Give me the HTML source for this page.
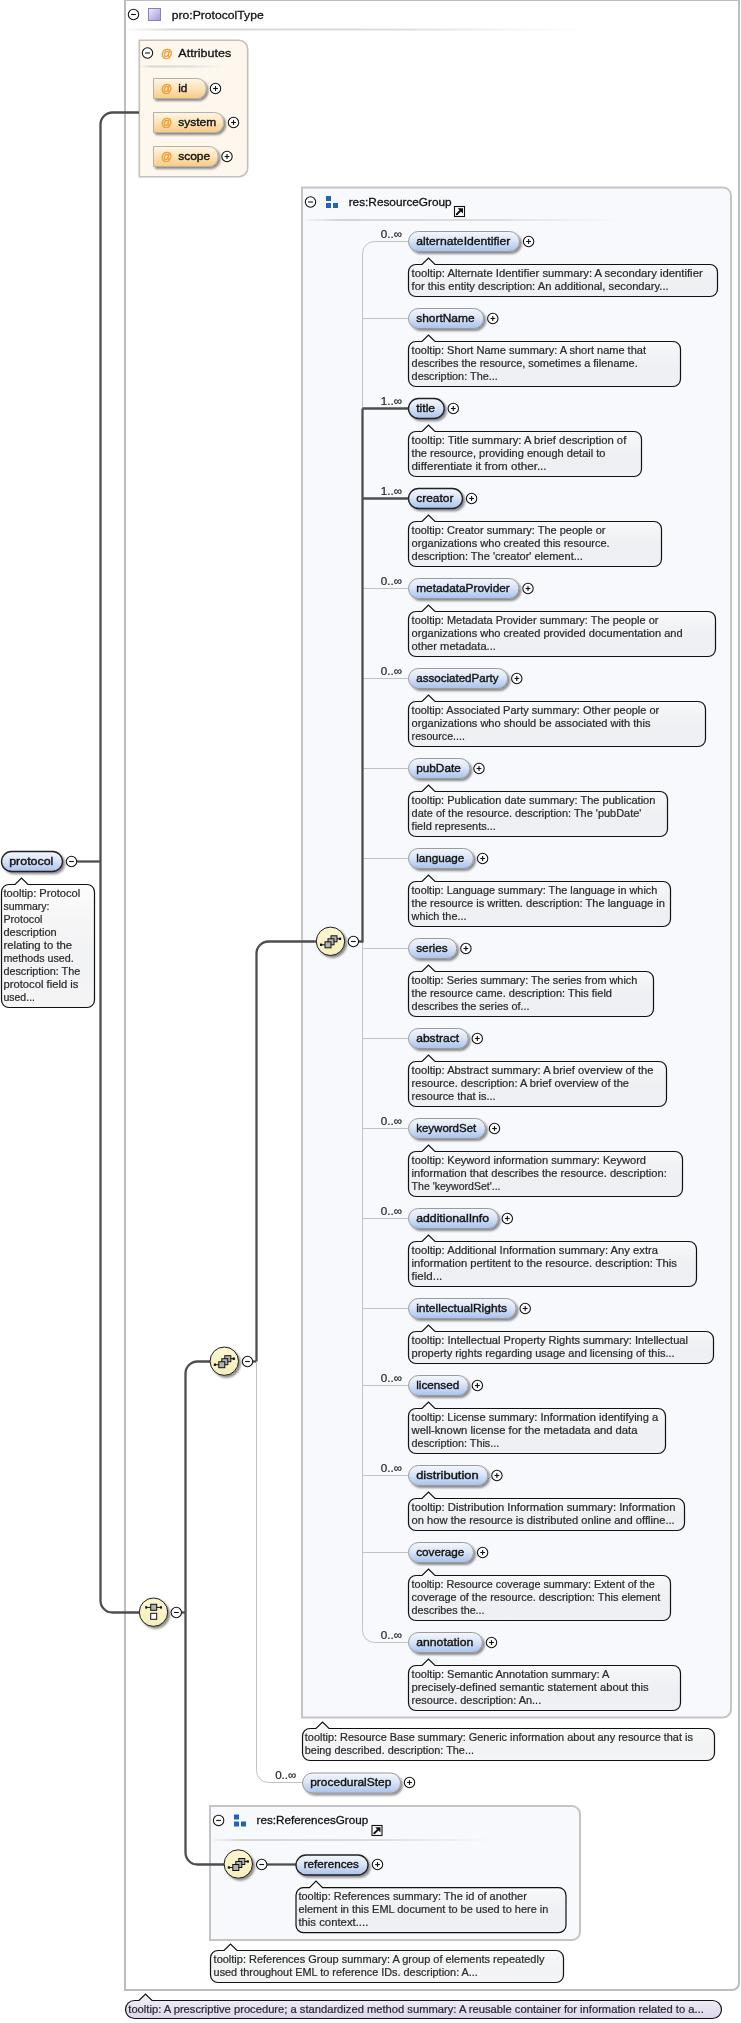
<!DOCTYPE html>
<html><head><meta charset="utf-8"><title>protocol</title>
<style>html,body{margin:0;padding:0;background:#fff;width:741px;height:2023px;overflow:hidden;font-family:"Liberation Sans", sans-serif;} svg{display:block;will-change:transform}</style>
</head><body>
<svg width="741" height="2023" viewBox="0 0 741 2023" font-family='"Liberation Sans", sans-serif'>
<defs>
 <linearGradient id="gElem" x1="0" y1="0" x2="0" y2="1">
  <stop offset="0" stop-color="#f4f7fd"/><stop offset="0.45" stop-color="#dbe5f7"/><stop offset="1" stop-color="#a8c2ec"/>
 </linearGradient>
 <linearGradient id="gAttr" x1="0" y1="0" x2="0" y2="1">
  <stop offset="0" stop-color="#fef6e8"/><stop offset="0.5" stop-color="#fce3b8"/><stop offset="1" stop-color="#f6cb86"/>
 </linearGradient>
 <linearGradient id="gTip" x1="0" y1="0" x2="0" y2="1">
  <stop offset="0" stop-color="#ffffff" stop-opacity="0.92"/><stop offset="1" stop-color="#d6d8dc" stop-opacity="0.24"/>
 </linearGradient>
 <linearGradient id="gTipP" x1="0" y1="0" x2="0" y2="1">
  <stop offset="0" stop-color="#f4f2fa"/><stop offset="1" stop-color="#dcd6ec"/>
 </linearGradient>
 <linearGradient id="gCirc" x1="0" y1="0" x2="0" y2="1">
  <stop offset="0" stop-color="#fbf6d2"/><stop offset="1" stop-color="#f6eebb"/>
 </linearGradient>
 <linearGradient id="gPurp" x1="0" y1="0" x2="1" y2="1">
  <stop offset="0" stop-color="#efeafa"/><stop offset="1" stop-color="#a597d6"/>
 </linearGradient>
 <linearGradient id="gSep" x1="0" y1="0" x2="1" y2="0">
  <stop offset="0" stop-color="#dcdcdc" stop-opacity="0.2"/><stop offset="0.1" stop-color="#d6d6d6"/><stop offset="0.6" stop-color="#dedede"/><stop offset="1" stop-color="#e6e6e6" stop-opacity="0"/>
 </linearGradient>
 <filter id="sh" x="-20%" y="-30%" width="150%" height="180%">
  <feGaussianBlur in="SourceAlpha" stdDeviation="1.2"/>
  <feOffset dx="2" dy="2" result="o"/>
  <feComponentTransfer><feFuncA type="linear" slope="0.45"/></feComponentTransfer>
  <feMerge><feMergeNode/><feMergeNode in="SourceGraphic"/></feMerge>
 </filter>
</defs>
<path d="M125.0,0.0 H738.99 A0.01,0.01 0 0 1 739.0,0.01 V1983.0 A7,7 0 0 1 732.0,1990.0 H125.0 Z" fill="#ffffff" stroke="#bdbdbd" stroke-width="2"/>
<circle cx="133.5" cy="14.5" r="5.2" fill="#fff" stroke="#111" stroke-width="1.05"/>
<line x1="131.1" y1="14.5" x2="135.9" y2="14.5" stroke="#111" stroke-width="1.1"/>
<rect x="148.5" y="8.5" width="12" height="12" fill="url(#gPurp)" stroke="#8b7cc8" stroke-width="1"/>
<text x="171.7" y="18.5" font-size="11.8" font-weight="normal" fill="#111" text-anchor="start" textLength="92" lengthAdjust="spacingAndGlyphs" stroke="#111" stroke-width="0.3">pro:ProtocolType</text>
<rect x="128" y="28.5" width="460" height="2" fill="url(#gSep)"/>
<path d="M139.3,40.3 H238.7 A9,9 0 0 1 247.7,49.3 V167.7 A9,9 0 0 1 238.7,176.7 H139.3 Z" fill="#fdf7ee" stroke="#c4c0ba" stroke-width="1.6"/>
<circle cx="147.5" cy="53" r="5.2" fill="#fff" stroke="#111" stroke-width="1.05"/>
<line x1="145.1" y1="53" x2="149.9" y2="53" stroke="#111" stroke-width="1.1"/>
<text x="161" y="57" font-size="11.5" font-weight="normal" fill="#ee9b30" text-anchor="start" stroke="#ee9b30" stroke-width="0.45">@</text>
<text x="178.3" y="56.8" font-size="11.8" font-weight="normal" fill="#111" text-anchor="start" textLength="53" lengthAdjust="spacingAndGlyphs" stroke="#111" stroke-width="0.3">Attributes</text>
<rect x="142" y="65.5" width="82" height="2" fill="url(#gSep)"/>
<path d="M153.5,78.5 H197.0 A9,9 0 0 1 206.0,87.5 V89.5 A9,9 0 0 1 197.0,98.5 H153.5 Z" fill="url(#gAttr)" stroke="#b5b0a8" stroke-width="1" filter="url(#sh)"/>
<text x="160.9" y="92.4" font-size="11" font-weight="normal" fill="#ee9b30" text-anchor="start" stroke="#ee9b30" stroke-width="0.45">@</text>
<text x="178.2" y="92" font-size="11.8" font-weight="normal" fill="#111" text-anchor="start" textLength="9.2" lengthAdjust="spacingAndGlyphs" stroke="#111" stroke-width="0.38">id</text>
<circle cx="215.5" cy="88.5" r="5.2" fill="#fff" stroke="#111" stroke-width="1.05"/>
<line x1="213.1" y1="88.5" x2="217.9" y2="88.5" stroke="#111" stroke-width="1.1"/>
<line x1="215.5" y1="86.1" x2="215.5" y2="90.9" stroke="#111" stroke-width="1.1"/>
<path d="M153.5,112.5 H214.5 A9,9 0 0 1 223.5,121.5 V123.5 A9,9 0 0 1 214.5,132.5 H153.5 Z" fill="url(#gAttr)" stroke="#b5b0a8" stroke-width="1" filter="url(#sh)"/>
<text x="160.9" y="126.4" font-size="11" font-weight="normal" fill="#ee9b30" text-anchor="start" stroke="#ee9b30" stroke-width="0.45">@</text>
<text x="178.2" y="126" font-size="11.8" font-weight="normal" fill="#111" text-anchor="start" textLength="38.0" lengthAdjust="spacingAndGlyphs" stroke="#111" stroke-width="0.38">system</text>
<circle cx="233.5" cy="122.5" r="5.2" fill="#fff" stroke="#111" stroke-width="1.05"/>
<line x1="231.1" y1="122.5" x2="235.9" y2="122.5" stroke="#111" stroke-width="1.1"/>
<line x1="233.5" y1="120.1" x2="233.5" y2="124.9" stroke="#111" stroke-width="1.1"/>
<path d="M153.5,146.5 H209.0 A9,9 0 0 1 218.0,155.5 V157.5 A9,9 0 0 1 209.0,166.5 H153.5 Z" fill="url(#gAttr)" stroke="#b5b0a8" stroke-width="1" filter="url(#sh)"/>
<text x="160.9" y="160.4" font-size="11" font-weight="normal" fill="#ee9b30" text-anchor="start" stroke="#ee9b30" stroke-width="0.45">@</text>
<text x="178.2" y="160" font-size="11.8" font-weight="normal" fill="#111" text-anchor="start" textLength="32.0" lengthAdjust="spacingAndGlyphs" stroke="#111" stroke-width="0.38">scope</text>
<circle cx="227" cy="156.5" r="5.2" fill="#fff" stroke="#111" stroke-width="1.05"/>
<line x1="224.6" y1="156.5" x2="229.4" y2="156.5" stroke="#111" stroke-width="1.1"/>
<line x1="227" y1="154.1" x2="227" y2="158.9" stroke="#111" stroke-width="1.1"/>
<path d="M302.0,187.5 H723.0 A8,8 0 0 1 731.0,195.5 V1709.5 A8,8 0 0 1 723.0,1717.5 H302.0 Z" fill="#f8f9fd" stroke="#c4c4c4" stroke-width="2"/>
<circle cx="310.5" cy="202" r="5.2" fill="#fff" stroke="#111" stroke-width="1.05"/>
<line x1="308.1" y1="202" x2="312.9" y2="202" stroke="#111" stroke-width="1.1"/>
<rect x="326" y="196" width="5" height="5" fill="#1f64b8"/>
<rect x="326" y="203" width="5" height="5" fill="#1f64b8"/>
<rect x="333" y="203" width="5" height="5" fill="#1f64b8"/>
<text x="348.7" y="205.5" font-size="11.8" font-weight="normal" fill="#111" text-anchor="start" textLength="103" lengthAdjust="spacingAndGlyphs" stroke="#111" stroke-width="0.3">res:ResourceGroup</text>
<rect x="454.5" y="206.5" width="10" height="10" fill="#fff" stroke="#111" stroke-width="1.1"/>
<path d="M456.8,214.3 L461,210.1" stroke="#111" stroke-width="2" stroke-linecap="round"/>
<path d="M457.6,208.2 H463 V213.6 Z" fill="#111"/>
<rect x="305" y="219" width="320" height="2" fill="url(#gSep)"/>
<path d="M210.0,1806.0 H572.0 A8,8 0 0 1 580.0,1814.0 V1932.0 A8,8 0 0 1 572.0,1940.0 H210.0 Z" fill="#f8f9fd" stroke="#c4c4c4" stroke-width="2"/>
<circle cx="218.6" cy="1820.4" r="5.2" fill="#fff" stroke="#111" stroke-width="1.05"/>
<line x1="216.2" y1="1820.4" x2="221.0" y2="1820.4" stroke="#111" stroke-width="1.1"/>
<rect x="234" y="1814.5" width="5" height="5" fill="#1f64b8"/>
<rect x="234" y="1821.5" width="5" height="5" fill="#1f64b8"/>
<rect x="241" y="1821.5" width="5" height="5" fill="#1f64b8"/>
<text x="256.5" y="1824" font-size="11.8" font-weight="normal" fill="#111" text-anchor="start" textLength="111.7" lengthAdjust="spacingAndGlyphs" stroke="#111" stroke-width="0.3">res:ReferencesGroup</text>
<rect x="372.0" y="1825.5" width="10" height="10" fill="#fff" stroke="#111" stroke-width="1.1"/>
<path d="M374.3,1833.3 L378.5,1829.1" stroke="#111" stroke-width="2" stroke-linecap="round"/>
<path d="M375.1,1827.2 H380.5 V1832.6 Z" fill="#111"/>
<rect x="213" y="1839" width="285" height="2" fill="url(#gSep)"/>
<path d="M374.5,241.5 A12,12 0 0 0 362.5,253.5 V1630.5 A12,12 0 0 0 374.5,1642.5 H408" fill="none" stroke="#c2c2c2" stroke-width="1"/>
<path d="M374.5,241.5 H408" fill="none" stroke="#c2c2c2" stroke-width="1"/>
<path d="M362.5,318.5 H408" fill="none" stroke="#c2c2c2" stroke-width="1"/>
<path d="M362.5,588.5 H408" fill="none" stroke="#c2c2c2" stroke-width="1"/>
<path d="M362.5,678.5 H408" fill="none" stroke="#c2c2c2" stroke-width="1"/>
<path d="M362.5,768.5 H408" fill="none" stroke="#c2c2c2" stroke-width="1"/>
<path d="M362.5,858.5 H408" fill="none" stroke="#c2c2c2" stroke-width="1"/>
<path d="M362.5,948.5 H408" fill="none" stroke="#c2c2c2" stroke-width="1"/>
<path d="M362.5,1038.5 H408" fill="none" stroke="#c2c2c2" stroke-width="1"/>
<path d="M362.5,1128.5 H408" fill="none" stroke="#c2c2c2" stroke-width="1"/>
<path d="M362.5,1218.5 H408" fill="none" stroke="#c2c2c2" stroke-width="1"/>
<path d="M362.5,1308.5 H408" fill="none" stroke="#c2c2c2" stroke-width="1"/>
<path d="M362.5,1385.5 H408" fill="none" stroke="#c2c2c2" stroke-width="1"/>
<path d="M362.5,1475.5 H408" fill="none" stroke="#c2c2c2" stroke-width="1"/>
<path d="M362.5,1552.5 H408" fill="none" stroke="#c2c2c2" stroke-width="1"/>
<path d="M362.5,408.5 H408" fill="none" stroke="#4e4e4e" stroke-width="2.3"/>
<path d="M362.5,498.5 H408" fill="none" stroke="#4e4e4e" stroke-width="2.3"/>
<path d="M358.5,941.5 H362.5 V408.5" fill="none" stroke="#4e4e4e" stroke-width="2.3"/>
<path d="M77,861.5 H100.5" fill="none" stroke="#4e4e4e" stroke-width="2.3"/>
<path d="M139,112.5 H112.5 A12,12 0 0 0 100.5,124.5 V1600.5 A12,12 0 0 0 112.5,1612.5 H139.5" fill="none" stroke="#4e4e4e" stroke-width="2.3"/>
<path d="M181.5,1612.5 H185.5" fill="none" stroke="#4e4e4e" stroke-width="2.3"/>
<path d="M210,1361.5 H197.5 A12,12 0 0 0 185.5,1373.5 V1852.5 A12,12 0 0 0 197.5,1864.5 H224" fill="none" stroke="#4e4e4e" stroke-width="2.3"/>
<path d="M252.5,1361.5 H256.5" fill="none" stroke="#4e4e4e" stroke-width="2.3"/>
<path d="M316.5,941.5 H268.5 A12,12 0 0 0 256.5,953.5 V1361.5" fill="none" stroke="#4e4e4e" stroke-width="2.3"/>
<path d="M256.5,1361.5 V1770.5 A12,12 0 0 0 268.5,1782.5 H302" fill="none" stroke="#c2c2c2" stroke-width="1"/>
<path d="M267,1864.5 H296" fill="none" stroke="#4e4e4e" stroke-width="2.3"/>
<rect x="408.5" y="231.5" width="111" height="20" rx="10.0" fill="url(#gElem)" stroke="#9a9a9a" stroke-width="1" filter="url(#sh)"/>
<text x="416.2" y="244.9" font-size="11.8" font-weight="normal" fill="#111" text-anchor="start" textLength="94.2" lengthAdjust="spacingAndGlyphs" stroke="#111" stroke-width="0.38">alternateIdentifier</text>
<circle cx="528.6" cy="241.5" r="5.2" fill="#fff" stroke="#111" stroke-width="1.05"/>
<line x1="526.2" y1="241.5" x2="531.0" y2="241.5" stroke="#111" stroke-width="1.1"/>
<line x1="528.6" y1="239.1" x2="528.6" y2="243.9" stroke="#111" stroke-width="1.1"/>
<text x="402" y="238" font-size="11.6" font-weight="normal" fill="#222" text-anchor="end" stroke="#222" stroke-width="0.2">0..∞</text>
<path d="M416.0,264.5 H422.0 L428.5,258.0 L435.0,264.5 H710.0 A7.5,7.5 0 0 1 717.5,272.0 V289.0 A7.5,7.5 0 0 1 710.0,296.5 H416.0 A7.5,7.5 0 0 1 408.5,289.0 V272.0 A7.5,7.5 0 0 1 416.0,264.5 Z" fill="url(#gTip)" stroke="#111" stroke-width="1.2"/>
<text x="411.6" y="277" font-size="11" font-weight="normal" fill="#2a2a2a" text-anchor="start" textLength="291.1" lengthAdjust="spacingAndGlyphs" stroke="#2a2a2a" stroke-width="0.22">tooltip: Alternate Identifier summary: A secondary identifier</text>
<text x="411.6" y="290" font-size="11" font-weight="normal" fill="#2a2a2a" text-anchor="start" textLength="257.0" lengthAdjust="spacingAndGlyphs" stroke="#2a2a2a" stroke-width="0.22">for this entity description: An additional, secondary...</text>
<rect x="408.5" y="308.5" width="75.2" height="20" rx="10.0" fill="url(#gElem)" stroke="#9a9a9a" stroke-width="1" filter="url(#sh)"/>
<text x="416.2" y="321.9" font-size="11.8" font-weight="normal" fill="#111" text-anchor="start" textLength="58.4" lengthAdjust="spacingAndGlyphs" stroke="#111" stroke-width="0.38">shortName</text>
<circle cx="492.8" cy="318.5" r="5.2" fill="#fff" stroke="#111" stroke-width="1.05"/>
<line x1="490.40000000000003" y1="318.5" x2="495.2" y2="318.5" stroke="#111" stroke-width="1.1"/>
<line x1="492.8" y1="316.1" x2="492.8" y2="320.9" stroke="#111" stroke-width="1.1"/>
<path d="M416.0,341.5 H422.0 L428.5,335.0 L435.0,341.5 H673.0 A7.5,7.5 0 0 1 680.5,349.0 V379.0 A7.5,7.5 0 0 1 673.0,386.5 H416.0 A7.5,7.5 0 0 1 408.5,379.0 V349.0 A7.5,7.5 0 0 1 416.0,341.5 Z" fill="url(#gTip)" stroke="#111" stroke-width="1.2"/>
<text x="411.6" y="354" font-size="11" font-weight="normal" fill="#2a2a2a" text-anchor="start" textLength="234.4" lengthAdjust="spacingAndGlyphs" stroke="#2a2a2a" stroke-width="0.22">tooltip: Short Name summary: A short name that</text>
<text x="411.6" y="367" font-size="11" font-weight="normal" fill="#2a2a2a" text-anchor="start" textLength="226.1" lengthAdjust="spacingAndGlyphs" stroke="#2a2a2a" stroke-width="0.22">describes the resource, sometimes a filename.</text>
<text x="411.6" y="380" font-size="11" font-weight="normal" fill="#2a2a2a" text-anchor="start" textLength="86.2" lengthAdjust="spacingAndGlyphs" stroke="#2a2a2a" stroke-width="0.22">description: The...</text>
<rect x="408.5" y="398.5" width="35.7" height="20" rx="10.0" fill="url(#gElem)" stroke="#222" stroke-width="1.3" filter="url(#sh)"/>
<text x="416.2" y="411.9" font-size="11.8" font-weight="normal" fill="#111" text-anchor="start" textLength="18.9" lengthAdjust="spacingAndGlyphs" stroke="#111" stroke-width="0.38">title</text>
<circle cx="453.3" cy="408.5" r="5.2" fill="#fff" stroke="#111" stroke-width="1.05"/>
<line x1="450.90000000000003" y1="408.5" x2="455.7" y2="408.5" stroke="#111" stroke-width="1.1"/>
<line x1="453.3" y1="406.1" x2="453.3" y2="410.9" stroke="#111" stroke-width="1.1"/>
<text x="402" y="405" font-size="11.6" font-weight="normal" fill="#222" text-anchor="end" stroke="#222" stroke-width="0.2">1..∞</text>
<path d="M416.0,431.5 H422.0 L428.5,425.0 L435.0,431.5 H634.0 A7.5,7.5 0 0 1 641.5,439.0 V469.0 A7.5,7.5 0 0 1 634.0,476.5 H416.0 A7.5,7.5 0 0 1 408.5,469.0 V439.0 A7.5,7.5 0 0 1 416.0,431.5 Z" fill="url(#gTip)" stroke="#111" stroke-width="1.2"/>
<text x="411.6" y="444" font-size="11" font-weight="normal" fill="#2a2a2a" text-anchor="start" textLength="214.7" lengthAdjust="spacingAndGlyphs" stroke="#2a2a2a" stroke-width="0.22">tooltip: Title summary: A brief description of</text>
<text x="411.6" y="457" font-size="11" font-weight="normal" fill="#2a2a2a" text-anchor="start" textLength="193.9" lengthAdjust="spacingAndGlyphs" stroke="#2a2a2a" stroke-width="0.22">the resource, providing enough detail to</text>
<text x="411.6" y="470" font-size="11" font-weight="normal" fill="#2a2a2a" text-anchor="start" textLength="135.0" lengthAdjust="spacingAndGlyphs" stroke="#2a2a2a" stroke-width="0.22">differentiate it from other...</text>
<rect x="408.5" y="488.5" width="54" height="20" rx="10.0" fill="url(#gElem)" stroke="#222" stroke-width="1.3" filter="url(#sh)"/>
<text x="416.2" y="501.9" font-size="11.8" font-weight="normal" fill="#111" text-anchor="start" textLength="37.2" lengthAdjust="spacingAndGlyphs" stroke="#111" stroke-width="0.38">creator</text>
<circle cx="471.6" cy="498.5" r="5.2" fill="#fff" stroke="#111" stroke-width="1.05"/>
<line x1="469.20000000000005" y1="498.5" x2="474.0" y2="498.5" stroke="#111" stroke-width="1.1"/>
<line x1="471.6" y1="496.1" x2="471.6" y2="500.9" stroke="#111" stroke-width="1.1"/>
<text x="402" y="495" font-size="11.6" font-weight="normal" fill="#222" text-anchor="end" stroke="#222" stroke-width="0.2">1..∞</text>
<path d="M416.0,521.5 H422.0 L428.5,515.0 L435.0,521.5 H654.0 A7.5,7.5 0 0 1 661.5,529.0 V559.0 A7.5,7.5 0 0 1 654.0,566.5 H416.0 A7.5,7.5 0 0 1 408.5,559.0 V529.0 A7.5,7.5 0 0 1 416.0,521.5 Z" fill="url(#gTip)" stroke="#111" stroke-width="1.2"/>
<text x="411.6" y="534" font-size="11" font-weight="normal" fill="#2a2a2a" text-anchor="start" textLength="193.9" lengthAdjust="spacingAndGlyphs" stroke="#2a2a2a" stroke-width="0.22">tooltip: Creator summary: The people or</text>
<text x="411.6" y="547" font-size="11" font-weight="normal" fill="#2a2a2a" text-anchor="start" textLength="198.1" lengthAdjust="spacingAndGlyphs" stroke="#2a2a2a" stroke-width="0.22">organizations who created this resource.</text>
<text x="411.6" y="560" font-size="11" font-weight="normal" fill="#2a2a2a" text-anchor="start" textLength="171.3" lengthAdjust="spacingAndGlyphs" stroke="#2a2a2a" stroke-width="0.22">description: The &#x27;creator&#x27; element...</text>
<rect x="408.5" y="578.5" width="110.4" height="20" rx="10.0" fill="url(#gElem)" stroke="#9a9a9a" stroke-width="1" filter="url(#sh)"/>
<text x="416.2" y="591.9" font-size="11.8" font-weight="normal" fill="#111" text-anchor="start" textLength="93.6" lengthAdjust="spacingAndGlyphs" stroke="#111" stroke-width="0.38">metadataProvider</text>
<circle cx="528.0" cy="588.5" r="5.2" fill="#fff" stroke="#111" stroke-width="1.05"/>
<line x1="525.6" y1="588.5" x2="530.4" y2="588.5" stroke="#111" stroke-width="1.1"/>
<line x1="528.0" y1="586.1" x2="528.0" y2="590.9" stroke="#111" stroke-width="1.1"/>
<text x="402" y="585" font-size="11.6" font-weight="normal" fill="#222" text-anchor="end" stroke="#222" stroke-width="0.2">0..∞</text>
<path d="M416.0,611.5 H422.0 L428.5,605.0 L435.0,611.5 H708.0 A7.5,7.5 0 0 1 715.5,619.0 V649.0 A7.5,7.5 0 0 1 708.0,656.5 H416.0 A7.5,7.5 0 0 1 408.5,649.0 V619.0 A7.5,7.5 0 0 1 416.0,611.5 Z" fill="url(#gTip)" stroke="#111" stroke-width="1.2"/>
<text x="411.6" y="624" font-size="11" font-weight="normal" fill="#2a2a2a" text-anchor="start" textLength="246.8" lengthAdjust="spacingAndGlyphs" stroke="#2a2a2a" stroke-width="0.22">tooltip: Metadata Provider summary: The people or</text>
<text x="411.6" y="637" font-size="11" font-weight="normal" fill="#2a2a2a" text-anchor="start" textLength="271.0" lengthAdjust="spacingAndGlyphs" stroke="#2a2a2a" stroke-width="0.22">organizations who created provided documentation and</text>
<text x="411.6" y="650" font-size="11" font-weight="normal" fill="#2a2a2a" text-anchor="start" textLength="84.3" lengthAdjust="spacingAndGlyphs" stroke="#2a2a2a" stroke-width="0.22">other metadata...</text>
<rect x="408.5" y="668.5" width="99.2" height="20" rx="10.0" fill="url(#gElem)" stroke="#9a9a9a" stroke-width="1" filter="url(#sh)"/>
<text x="416.2" y="681.9" font-size="11.8" font-weight="normal" fill="#111" text-anchor="start" textLength="82.4" lengthAdjust="spacingAndGlyphs" stroke="#111" stroke-width="0.38">associatedParty</text>
<circle cx="516.8" cy="678.5" r="5.2" fill="#fff" stroke="#111" stroke-width="1.05"/>
<line x1="514.4" y1="678.5" x2="519.1999999999999" y2="678.5" stroke="#111" stroke-width="1.1"/>
<line x1="516.8" y1="676.1" x2="516.8" y2="680.9" stroke="#111" stroke-width="1.1"/>
<text x="402" y="675" font-size="11.6" font-weight="normal" fill="#222" text-anchor="end" stroke="#222" stroke-width="0.2">0..∞</text>
<path d="M416.0,701.5 H422.0 L428.5,695.0 L435.0,701.5 H698.0 A7.5,7.5 0 0 1 705.5,709.0 V739.0 A7.5,7.5 0 0 1 698.0,746.5 H416.0 A7.5,7.5 0 0 1 408.5,739.0 V709.0 A7.5,7.5 0 0 1 416.0,701.5 Z" fill="url(#gTip)" stroke="#111" stroke-width="1.2"/>
<text x="411.6" y="714" font-size="11" font-weight="normal" fill="#2a2a2a" text-anchor="start" textLength="247.6" lengthAdjust="spacingAndGlyphs" stroke="#2a2a2a" stroke-width="0.22">tooltip: Associated Party summary: Other people or</text>
<text x="411.6" y="727" font-size="11" font-weight="normal" fill="#2a2a2a" text-anchor="start" textLength="238.9" lengthAdjust="spacingAndGlyphs" stroke="#2a2a2a" stroke-width="0.22">organizations who should be associated with this</text>
<text x="411.6" y="740" font-size="11" font-weight="normal" fill="#2a2a2a" text-anchor="start" textLength="53.4" lengthAdjust="spacingAndGlyphs" stroke="#2a2a2a" stroke-width="0.22">resource....</text>
<rect x="408.5" y="758.5" width="61.4" height="20" rx="10.0" fill="url(#gElem)" stroke="#9a9a9a" stroke-width="1" filter="url(#sh)"/>
<text x="416.2" y="771.9" font-size="11.8" font-weight="normal" fill="#111" text-anchor="start" textLength="44.6" lengthAdjust="spacingAndGlyphs" stroke="#111" stroke-width="0.38">pubDate</text>
<circle cx="479.0" cy="768.5" r="5.2" fill="#fff" stroke="#111" stroke-width="1.05"/>
<line x1="476.6" y1="768.5" x2="481.4" y2="768.5" stroke="#111" stroke-width="1.1"/>
<line x1="479.0" y1="766.1" x2="479.0" y2="770.9" stroke="#111" stroke-width="1.1"/>
<path d="M416.0,791.5 H422.0 L428.5,785.0 L435.0,791.5 H660.0 A7.5,7.5 0 0 1 667.5,799.0 V829.0 A7.5,7.5 0 0 1 660.0,836.5 H416.0 A7.5,7.5 0 0 1 408.5,829.0 V799.0 A7.5,7.5 0 0 1 416.0,791.5 Z" fill="url(#gTip)" stroke="#111" stroke-width="1.2"/>
<text x="411.6" y="804" font-size="11" font-weight="normal" fill="#2a2a2a" text-anchor="start" textLength="243.8" lengthAdjust="spacingAndGlyphs" stroke="#2a2a2a" stroke-width="0.22">tooltip: Publication date summary: The publication</text>
<text x="411.6" y="817" font-size="11" font-weight="normal" fill="#2a2a2a" text-anchor="start" textLength="229.8" lengthAdjust="spacingAndGlyphs" stroke="#2a2a2a" stroke-width="0.22">date of the resource. description: The &#x27;pubDate&#x27;</text>
<text x="411.6" y="830" font-size="11" font-weight="normal" fill="#2a2a2a" text-anchor="start" textLength="84.3" lengthAdjust="spacingAndGlyphs" stroke="#2a2a2a" stroke-width="0.22">field represents...</text>
<rect x="408.5" y="848.5" width="65" height="20" rx="10.0" fill="url(#gElem)" stroke="#9a9a9a" stroke-width="1" filter="url(#sh)"/>
<text x="416.2" y="861.9" font-size="11.8" font-weight="normal" fill="#111" text-anchor="start" textLength="48.2" lengthAdjust="spacingAndGlyphs" stroke="#111" stroke-width="0.38">language</text>
<circle cx="482.6" cy="858.5" r="5.2" fill="#fff" stroke="#111" stroke-width="1.05"/>
<line x1="480.20000000000005" y1="858.5" x2="485.0" y2="858.5" stroke="#111" stroke-width="1.1"/>
<line x1="482.6" y1="856.1" x2="482.6" y2="860.9" stroke="#111" stroke-width="1.1"/>
<path d="M416.0,881.5 H422.0 L428.5,875.0 L435.0,881.5 H663.0 A7.5,7.5 0 0 1 670.5,889.0 V919.0 A7.5,7.5 0 0 1 663.0,926.5 H416.0 A7.5,7.5 0 0 1 408.5,919.0 V889.0 A7.5,7.5 0 0 1 416.0,881.5 Z" fill="url(#gTip)" stroke="#111" stroke-width="1.2"/>
<text x="411.6" y="894" font-size="11" font-weight="normal" fill="#2a2a2a" text-anchor="start" textLength="245.7" lengthAdjust="spacingAndGlyphs" stroke="#2a2a2a" stroke-width="0.22">tooltip: Language summary: The language in which</text>
<text x="411.6" y="907" font-size="11" font-weight="normal" fill="#2a2a2a" text-anchor="start" textLength="253.3" lengthAdjust="spacingAndGlyphs" stroke="#2a2a2a" stroke-width="0.22">the resource is written. description: The language in</text>
<text x="411.6" y="920" font-size="11" font-weight="normal" fill="#2a2a2a" text-anchor="start" textLength="54.9" lengthAdjust="spacingAndGlyphs" stroke="#2a2a2a" stroke-width="0.22">which the...</text>
<rect x="408.5" y="938.5" width="48.3" height="20" rx="10.0" fill="url(#gElem)" stroke="#9a9a9a" stroke-width="1" filter="url(#sh)"/>
<text x="416.2" y="951.9" font-size="11.8" font-weight="normal" fill="#111" text-anchor="start" textLength="31.5" lengthAdjust="spacingAndGlyphs" stroke="#111" stroke-width="0.38">series</text>
<circle cx="465.90000000000003" cy="948.5" r="5.2" fill="#fff" stroke="#111" stroke-width="1.05"/>
<line x1="463.50000000000006" y1="948.5" x2="468.3" y2="948.5" stroke="#111" stroke-width="1.1"/>
<line x1="465.90000000000003" y1="946.1" x2="465.90000000000003" y2="950.9" stroke="#111" stroke-width="1.1"/>
<path d="M416.0,971.5 H422.0 L428.5,965.0 L435.0,971.5 H646.0 A7.5,7.5 0 0 1 653.5,979.0 V1009.0 A7.5,7.5 0 0 1 646.0,1016.5 H416.0 A7.5,7.5 0 0 1 408.5,1009.0 V979.0 A7.5,7.5 0 0 1 416.0,971.5 Z" fill="url(#gTip)" stroke="#111" stroke-width="1.2"/>
<text x="411.6" y="984" font-size="11" font-weight="normal" fill="#2a2a2a" text-anchor="start" textLength="225.7" lengthAdjust="spacingAndGlyphs" stroke="#2a2a2a" stroke-width="0.22">tooltip: Series summary: The series from which</text>
<text x="411.6" y="997" font-size="11" font-weight="normal" fill="#2a2a2a" text-anchor="start" textLength="200.4" lengthAdjust="spacingAndGlyphs" stroke="#2a2a2a" stroke-width="0.22">the resource came. description: This field</text>
<text x="411.6" y="1010" font-size="11" font-weight="normal" fill="#2a2a2a" text-anchor="start" textLength="118.0" lengthAdjust="spacingAndGlyphs" stroke="#2a2a2a" stroke-width="0.22">describes the series of...</text>
<rect x="408.5" y="1028.5" width="59.7" height="20" rx="10.0" fill="url(#gElem)" stroke="#9a9a9a" stroke-width="1" filter="url(#sh)"/>
<text x="416.2" y="1041.9" font-size="11.8" font-weight="normal" fill="#111" text-anchor="start" textLength="42.9" lengthAdjust="spacingAndGlyphs" stroke="#111" stroke-width="0.38">abstract</text>
<circle cx="477.3" cy="1038.5" r="5.2" fill="#fff" stroke="#111" stroke-width="1.05"/>
<line x1="474.90000000000003" y1="1038.5" x2="479.7" y2="1038.5" stroke="#111" stroke-width="1.1"/>
<line x1="477.3" y1="1036.1" x2="477.3" y2="1040.9" stroke="#111" stroke-width="1.1"/>
<path d="M416.0,1061.5 H422.0 L428.5,1055.0 L435.0,1061.5 H659.0 A7.5,7.5 0 0 1 666.5,1069.0 V1099.0 A7.5,7.5 0 0 1 659.0,1106.5 H416.0 A7.5,7.5 0 0 1 408.5,1099.0 V1069.0 A7.5,7.5 0 0 1 416.0,1061.5 Z" fill="url(#gTip)" stroke="#111" stroke-width="1.2"/>
<text x="411.6" y="1074" font-size="11" font-weight="normal" fill="#2a2a2a" text-anchor="start" textLength="241.9" lengthAdjust="spacingAndGlyphs" stroke="#2a2a2a" stroke-width="0.22">tooltip: Abstract summary: A brief overview of the</text>
<text x="411.6" y="1087" font-size="11" font-weight="normal" fill="#2a2a2a" text-anchor="start" textLength="217.4" lengthAdjust="spacingAndGlyphs" stroke="#2a2a2a" stroke-width="0.22">resource. description: A brief overview of the</text>
<text x="411.6" y="1100" font-size="11" font-weight="normal" fill="#2a2a2a" text-anchor="start" textLength="84.0" lengthAdjust="spacingAndGlyphs" stroke="#2a2a2a" stroke-width="0.22">resource that is...</text>
<rect x="408.5" y="1118.5" width="76.9" height="20" rx="10.0" fill="url(#gElem)" stroke="#9a9a9a" stroke-width="1" filter="url(#sh)"/>
<text x="416.2" y="1131.9" font-size="11.8" font-weight="normal" fill="#111" text-anchor="start" textLength="60.1" lengthAdjust="spacingAndGlyphs" stroke="#111" stroke-width="0.38">keywordSet</text>
<circle cx="494.5" cy="1128.5" r="5.2" fill="#fff" stroke="#111" stroke-width="1.05"/>
<line x1="492.1" y1="1128.5" x2="496.9" y2="1128.5" stroke="#111" stroke-width="1.1"/>
<line x1="494.5" y1="1126.1" x2="494.5" y2="1130.9" stroke="#111" stroke-width="1.1"/>
<text x="402" y="1125" font-size="11.6" font-weight="normal" fill="#222" text-anchor="end" stroke="#222" stroke-width="0.2">0..∞</text>
<path d="M416.0,1151.5 H422.0 L428.5,1145.0 L435.0,1151.5 H675.0 A7.5,7.5 0 0 1 682.5,1159.0 V1189.0 A7.5,7.5 0 0 1 675.0,1196.5 H416.0 A7.5,7.5 0 0 1 408.5,1189.0 V1159.0 A7.5,7.5 0 0 1 416.0,1151.5 Z" fill="url(#gTip)" stroke="#111" stroke-width="1.2"/>
<text x="411.6" y="1164" font-size="11" font-weight="normal" fill="#2a2a2a" text-anchor="start" textLength="234.4" lengthAdjust="spacingAndGlyphs" stroke="#2a2a2a" stroke-width="0.22">tooltip: Keyword information summary: Keyword</text>
<text x="411.6" y="1177" font-size="11" font-weight="normal" fill="#2a2a2a" text-anchor="start" textLength="255.2" lengthAdjust="spacingAndGlyphs" stroke="#2a2a2a" stroke-width="0.22">information that describes the resource. description:</text>
<text x="411.6" y="1190" font-size="11" font-weight="normal" fill="#2a2a2a" text-anchor="start" textLength="88.9" lengthAdjust="spacingAndGlyphs" stroke="#2a2a2a" stroke-width="0.22">The &#x27;keywordSet&#x27;...</text>
<rect x="408.5" y="1208.5" width="89.7" height="20" rx="10.0" fill="url(#gElem)" stroke="#9a9a9a" stroke-width="1" filter="url(#sh)"/>
<text x="416.2" y="1221.9" font-size="11.8" font-weight="normal" fill="#111" text-anchor="start" textLength="72.9" lengthAdjust="spacingAndGlyphs" stroke="#111" stroke-width="0.38">additionalInfo</text>
<circle cx="507.3" cy="1218.5" r="5.2" fill="#fff" stroke="#111" stroke-width="1.05"/>
<line x1="504.90000000000003" y1="1218.5" x2="509.7" y2="1218.5" stroke="#111" stroke-width="1.1"/>
<line x1="507.3" y1="1216.1" x2="507.3" y2="1220.9" stroke="#111" stroke-width="1.1"/>
<text x="402" y="1215" font-size="11.6" font-weight="normal" fill="#222" text-anchor="end" stroke="#222" stroke-width="0.2">0..∞</text>
<path d="M416.0,1241.5 H422.0 L428.5,1235.0 L435.0,1241.5 H689.0 A7.5,7.5 0 0 1 696.5,1249.0 V1279.0 A7.5,7.5 0 0 1 689.0,1286.5 H416.0 A7.5,7.5 0 0 1 408.5,1279.0 V1249.0 A7.5,7.5 0 0 1 416.0,1241.5 Z" fill="url(#gTip)" stroke="#111" stroke-width="1.2"/>
<text x="411.6" y="1254" font-size="11" font-weight="normal" fill="#2a2a2a" text-anchor="start" textLength="246.4" lengthAdjust="spacingAndGlyphs" stroke="#2a2a2a" stroke-width="0.22">tooltip: Additional Information summary: Any extra</text>
<text x="411.6" y="1267" font-size="11" font-weight="normal" fill="#2a2a2a" text-anchor="start" textLength="265.4" lengthAdjust="spacingAndGlyphs" stroke="#2a2a2a" stroke-width="0.22">information pertitent to the resource. description: This</text>
<text x="411.6" y="1280" font-size="11" font-weight="normal" fill="#2a2a2a" text-anchor="start" textLength="30.7" lengthAdjust="spacingAndGlyphs" stroke="#2a2a2a" stroke-width="0.22">field...</text>
<rect x="408.5" y="1298.5" width="107.6" height="20" rx="10.0" fill="url(#gElem)" stroke="#9a9a9a" stroke-width="1" filter="url(#sh)"/>
<text x="416.2" y="1311.9" font-size="11.8" font-weight="normal" fill="#111" text-anchor="start" textLength="90.8" lengthAdjust="spacingAndGlyphs" stroke="#111" stroke-width="0.38">intellectualRights</text>
<circle cx="525.2" cy="1308.5" r="5.2" fill="#fff" stroke="#111" stroke-width="1.05"/>
<line x1="522.8000000000001" y1="1308.5" x2="527.6" y2="1308.5" stroke="#111" stroke-width="1.1"/>
<line x1="525.2" y1="1306.1" x2="525.2" y2="1310.9" stroke="#111" stroke-width="1.1"/>
<path d="M416.0,1331.5 H422.0 L428.5,1325.0 L435.0,1331.5 H706.0 A7.5,7.5 0 0 1 713.5,1339.0 V1356.0 A7.5,7.5 0 0 1 706.0,1363.5 H416.0 A7.5,7.5 0 0 1 408.5,1356.0 V1339.0 A7.5,7.5 0 0 1 416.0,1331.5 Z" fill="url(#gTip)" stroke="#111" stroke-width="1.2"/>
<text x="411.6" y="1344" font-size="11" font-weight="normal" fill="#2a2a2a" text-anchor="start" textLength="276.4" lengthAdjust="spacingAndGlyphs" stroke="#2a2a2a" stroke-width="0.22">tooltip: Intellectual Property Rights summary: Intellectual</text>
<text x="411.6" y="1357" font-size="11" font-weight="normal" fill="#2a2a2a" text-anchor="start" textLength="263.1" lengthAdjust="spacingAndGlyphs" stroke="#2a2a2a" stroke-width="0.22">property rights regarding usage and licensing of this...</text>
<rect x="408.5" y="1375.5" width="59.8" height="20" rx="10.0" fill="url(#gElem)" stroke="#9a9a9a" stroke-width="1" filter="url(#sh)"/>
<text x="416.2" y="1388.9" font-size="11.8" font-weight="normal" fill="#111" text-anchor="start" textLength="43.0" lengthAdjust="spacingAndGlyphs" stroke="#111" stroke-width="0.38">licensed</text>
<circle cx="477.40000000000003" cy="1385.5" r="5.2" fill="#fff" stroke="#111" stroke-width="1.05"/>
<line x1="475.00000000000006" y1="1385.5" x2="479.8" y2="1385.5" stroke="#111" stroke-width="1.1"/>
<line x1="477.40000000000003" y1="1383.1" x2="477.40000000000003" y2="1387.9" stroke="#111" stroke-width="1.1"/>
<text x="402" y="1382" font-size="11.6" font-weight="normal" fill="#222" text-anchor="end" stroke="#222" stroke-width="0.2">0..∞</text>
<path d="M416.0,1408.5 H422.0 L428.5,1402.0 L435.0,1408.5 H658.0 A7.5,7.5 0 0 1 665.5,1416.0 V1446.0 A7.5,7.5 0 0 1 658.0,1453.5 H416.0 A7.5,7.5 0 0 1 408.5,1446.0 V1416.0 A7.5,7.5 0 0 1 416.0,1408.5 Z" fill="url(#gTip)" stroke="#111" stroke-width="1.2"/>
<text x="411.6" y="1421" font-size="11" font-weight="normal" fill="#2a2a2a" text-anchor="start" textLength="246.6" lengthAdjust="spacingAndGlyphs" stroke="#2a2a2a" stroke-width="0.22">tooltip: License summary: Information identifying a</text>
<text x="411.6" y="1434" font-size="11" font-weight="normal" fill="#2a2a2a" text-anchor="start" textLength="225.9" lengthAdjust="spacingAndGlyphs" stroke="#2a2a2a" stroke-width="0.22">well-known license for the metadata and data</text>
<text x="411.6" y="1447" font-size="11" font-weight="normal" fill="#2a2a2a" text-anchor="start" textLength="87.7" lengthAdjust="spacingAndGlyphs" stroke="#2a2a2a" stroke-width="0.22">description: This...</text>
<rect x="408.5" y="1465.5" width="79.3" height="20" rx="10.0" fill="url(#gElem)" stroke="#9a9a9a" stroke-width="1" filter="url(#sh)"/>
<text x="416.2" y="1478.9" font-size="11.8" font-weight="normal" fill="#111" text-anchor="start" textLength="62.5" lengthAdjust="spacingAndGlyphs" stroke="#111" stroke-width="0.38">distribution</text>
<circle cx="496.90000000000003" cy="1475.5" r="5.2" fill="#fff" stroke="#111" stroke-width="1.05"/>
<line x1="494.50000000000006" y1="1475.5" x2="499.3" y2="1475.5" stroke="#111" stroke-width="1.1"/>
<line x1="496.90000000000003" y1="1473.1" x2="496.90000000000003" y2="1477.9" stroke="#111" stroke-width="1.1"/>
<text x="402" y="1472" font-size="11.6" font-weight="normal" fill="#222" text-anchor="end" stroke="#222" stroke-width="0.2">0..∞</text>
<path d="M416.0,1498.5 H422.0 L428.5,1492.0 L435.0,1498.5 H677.0 A7.5,7.5 0 0 1 684.5,1506.0 V1523.0 A7.5,7.5 0 0 1 677.0,1530.5 H416.0 A7.5,7.5 0 0 1 408.5,1523.0 V1506.0 A7.5,7.5 0 0 1 416.0,1498.5 Z" fill="url(#gTip)" stroke="#111" stroke-width="1.2"/>
<text x="411.6" y="1511" font-size="11" font-weight="normal" fill="#2a2a2a" text-anchor="start" textLength="263.9" lengthAdjust="spacingAndGlyphs" stroke="#2a2a2a" stroke-width="0.22">tooltip: Distribution Information summary: Information</text>
<text x="411.6" y="1524" font-size="11" font-weight="normal" fill="#2a2a2a" text-anchor="start" textLength="263.1" lengthAdjust="spacingAndGlyphs" stroke="#2a2a2a" stroke-width="0.22">on how the resource is distributed online and offline...</text>
<rect x="408.5" y="1542.5" width="65" height="20" rx="10.0" fill="url(#gElem)" stroke="#9a9a9a" stroke-width="1" filter="url(#sh)"/>
<text x="416.2" y="1555.9" font-size="11.8" font-weight="normal" fill="#111" text-anchor="start" textLength="48.2" lengthAdjust="spacingAndGlyphs" stroke="#111" stroke-width="0.38">coverage</text>
<circle cx="482.6" cy="1552.5" r="5.2" fill="#fff" stroke="#111" stroke-width="1.05"/>
<line x1="480.20000000000005" y1="1552.5" x2="485.0" y2="1552.5" stroke="#111" stroke-width="1.1"/>
<line x1="482.6" y1="1550.1" x2="482.6" y2="1554.9" stroke="#111" stroke-width="1.1"/>
<path d="M416.0,1575.5 H422.0 L428.5,1569.0 L435.0,1575.5 H663.0 A7.5,7.5 0 0 1 670.5,1583.0 V1613.0 A7.5,7.5 0 0 1 663.0,1620.5 H416.0 A7.5,7.5 0 0 1 408.5,1613.0 V1583.0 A7.5,7.5 0 0 1 416.0,1575.5 Z" fill="url(#gTip)" stroke="#111" stroke-width="1.2"/>
<text x="411.6" y="1588" font-size="11" font-weight="normal" fill="#2a2a2a" text-anchor="start" textLength="243.2" lengthAdjust="spacingAndGlyphs" stroke="#2a2a2a" stroke-width="0.22">tooltip: Resource coverage summary: Extent of the</text>
<text x="411.6" y="1601" font-size="11" font-weight="normal" fill="#2a2a2a" text-anchor="start" textLength="248.8" lengthAdjust="spacingAndGlyphs" stroke="#2a2a2a" stroke-width="0.22">coverage of the resource. description: This element</text>
<text x="411.6" y="1614" font-size="11" font-weight="normal" fill="#2a2a2a" text-anchor="start" textLength="73.0" lengthAdjust="spacingAndGlyphs" stroke="#2a2a2a" stroke-width="0.22">describes the...</text>
<rect x="408.5" y="1632.5" width="73.9" height="20" rx="10.0" fill="url(#gElem)" stroke="#9a9a9a" stroke-width="1" filter="url(#sh)"/>
<text x="416.2" y="1645.9" font-size="11.8" font-weight="normal" fill="#111" text-anchor="start" textLength="57.1" lengthAdjust="spacingAndGlyphs" stroke="#111" stroke-width="0.38">annotation</text>
<circle cx="491.5" cy="1642.5" r="5.2" fill="#fff" stroke="#111" stroke-width="1.05"/>
<line x1="489.1" y1="1642.5" x2="493.9" y2="1642.5" stroke="#111" stroke-width="1.1"/>
<line x1="491.5" y1="1640.1" x2="491.5" y2="1644.9" stroke="#111" stroke-width="1.1"/>
<text x="402" y="1639" font-size="11.6" font-weight="normal" fill="#222" text-anchor="end" stroke="#222" stroke-width="0.2">0..∞</text>
<path d="M416.0,1665.5 H422.0 L428.5,1659.0 L435.0,1665.5 H673.0 A7.5,7.5 0 0 1 680.5,1673.0 V1703.0 A7.5,7.5 0 0 1 673.0,1710.5 H416.0 A7.5,7.5 0 0 1 408.5,1703.0 V1673.0 A7.5,7.5 0 0 1 416.0,1665.5 Z" fill="url(#gTip)" stroke="#111" stroke-width="1.2"/>
<text x="411.6" y="1678" font-size="11" font-weight="normal" fill="#2a2a2a" text-anchor="start" textLength="197.8" lengthAdjust="spacingAndGlyphs" stroke="#2a2a2a" stroke-width="0.22">tooltip: Semantic Annotation summary: A</text>
<text x="411.6" y="1691" font-size="11" font-weight="normal" fill="#2a2a2a" text-anchor="start" textLength="237.1" lengthAdjust="spacingAndGlyphs" stroke="#2a2a2a" stroke-width="0.22">precisely-defined semantic statement about this</text>
<text x="411.6" y="1704" font-size="11" font-weight="normal" fill="#2a2a2a" text-anchor="start" textLength="129.6" lengthAdjust="spacingAndGlyphs" stroke="#2a2a2a" stroke-width="0.22">resource. description: An...</text>
<circle cx="330.5" cy="941.3" r="14.2" fill="url(#gCirc)" stroke="#1a1a1a" stroke-width="1" filter="url(#sh)"/>
<line x1="321.0" y1="944.8" x2="325.5" y2="944.8" stroke="#111" stroke-width="1"/>
<line x1="335.5" y1="938.8" x2="340.0" y2="938.8" stroke="#111" stroke-width="1"/>
<rect x="331.0" y="935.8" width="6" height="6" fill="#b2b2b2" stroke="#111" stroke-width="1"/>
<rect x="328.0" y="938.8" width="6" height="6" fill="#b2b2b2" stroke="#111" stroke-width="1"/>
<rect x="325.0" y="941.8" width="6" height="6" fill="#b2b2b2" stroke="#111" stroke-width="1"/>
<rect x="320.0" y="943.5999999999999" width="2.2" height="2.4" fill="#111"/>
<rect x="338.9" y="937.5999999999999" width="2.2" height="2.4" fill="#111"/>
<circle cx="353.4" cy="941.5" r="5.2" fill="#fff" stroke="#111" stroke-width="1.05"/>
<line x1="351.0" y1="941.5" x2="355.79999999999995" y2="941.5" stroke="#111" stroke-width="1.1"/>
<circle cx="224.3" cy="1361.2" r="14.2" fill="url(#gCirc)" stroke="#1a1a1a" stroke-width="1" filter="url(#sh)"/>
<line x1="214.8" y1="1364.7" x2="219.3" y2="1364.7" stroke="#111" stroke-width="1"/>
<line x1="229.3" y1="1358.7" x2="233.8" y2="1358.7" stroke="#111" stroke-width="1"/>
<rect x="224.8" y="1355.7" width="6" height="6" fill="#b2b2b2" stroke="#111" stroke-width="1"/>
<rect x="221.8" y="1358.7" width="6" height="6" fill="#b2b2b2" stroke="#111" stroke-width="1"/>
<rect x="218.8" y="1361.7" width="6" height="6" fill="#b2b2b2" stroke="#111" stroke-width="1"/>
<rect x="213.8" y="1363.5" width="2.2" height="2.4" fill="#111"/>
<rect x="232.70000000000002" y="1357.5" width="2.2" height="2.4" fill="#111"/>
<circle cx="247.5" cy="1361.5" r="5.2" fill="#fff" stroke="#111" stroke-width="1.05"/>
<line x1="245.1" y1="1361.5" x2="249.9" y2="1361.5" stroke="#111" stroke-width="1.1"/>
<circle cx="153.5" cy="1612.2" r="14.2" fill="url(#gCirc)" stroke="#1a1a1a" stroke-width="1" filter="url(#sh)"/>
<line x1="146.0" y1="1607.4" x2="161.0" y2="1607.4" stroke="#111" stroke-width="1"/>
<rect x="145.2" y="1606.2" width="1.9" height="2.4" fill="#111"/>
<rect x="160.1" y="1606.2" width="1.9" height="2.4" fill="#111"/>
<rect x="150.7" y="1604.3" width="6" height="6" fill="#b2b2b2" stroke="#111" stroke-width="1"/>
<rect x="150.7" y="1613.3" width="6" height="6" fill="#fff" stroke="#111" stroke-width="1"/>
<circle cx="176.3" cy="1612.5" r="5.2" fill="#fff" stroke="#111" stroke-width="1.05"/>
<line x1="173.9" y1="1612.5" x2="178.70000000000002" y2="1612.5" stroke="#111" stroke-width="1.1"/>
<circle cx="238.3" cy="1864" r="14.2" fill="url(#gCirc)" stroke="#1a1a1a" stroke-width="1" filter="url(#sh)"/>
<line x1="228.8" y1="1867.5" x2="233.3" y2="1867.5" stroke="#111" stroke-width="1"/>
<line x1="243.3" y1="1861.5" x2="247.8" y2="1861.5" stroke="#111" stroke-width="1"/>
<rect x="238.8" y="1858.5" width="6" height="6" fill="#b2b2b2" stroke="#111" stroke-width="1"/>
<rect x="235.8" y="1861.5" width="6" height="6" fill="#b2b2b2" stroke="#111" stroke-width="1"/>
<rect x="232.8" y="1864.5" width="6" height="6" fill="#b2b2b2" stroke="#111" stroke-width="1"/>
<rect x="227.8" y="1866.3" width="2.2" height="2.4" fill="#111"/>
<rect x="246.70000000000002" y="1860.3" width="2.2" height="2.4" fill="#111"/>
<circle cx="261.7" cy="1864.5" r="5.2" fill="#fff" stroke="#111" stroke-width="1.05"/>
<line x1="259.3" y1="1864.5" x2="264.09999999999997" y2="1864.5" stroke="#111" stroke-width="1.1"/>
<rect x="1.5" y="851.5" width="61" height="20" rx="10.0" fill="url(#gElem)" stroke="#222" stroke-width="1.3" filter="url(#sh)"/>
<text x="9.2" y="864.9" font-size="11.8" font-weight="normal" fill="#111" text-anchor="start" textLength="44.2" lengthAdjust="spacingAndGlyphs" stroke="#111" stroke-width="0.38">protocol</text>
<circle cx="71.5" cy="861.5" r="5.2" fill="#fff" stroke="#111" stroke-width="1.05"/>
<line x1="69.1" y1="861.5" x2="73.9" y2="861.5" stroke="#111" stroke-width="1.1"/>
<path d="M9.0,884.5 H15.0 L21.5,878.0 L28.0,884.5 H87.0 A7.5,7.5 0 0 1 94.5,892.0 V1000.0 A7.5,7.5 0 0 1 87.0,1007.5 H9.0 A7.5,7.5 0 0 1 1.5,1000.0 V892.0 A7.5,7.5 0 0 1 9.0,884.5 Z" fill="url(#gTip)" stroke="#111" stroke-width="1.2"/>
<text x="3.4" y="897" font-size="11" font-weight="normal" fill="#2a2a2a" text-anchor="start" textLength="76.9" lengthAdjust="spacingAndGlyphs" stroke="#2a2a2a" stroke-width="0.22">tooltip: Protocol</text>
<text x="3.4" y="910" font-size="11" font-weight="normal" fill="#2a2a2a" text-anchor="start" textLength="46.1" lengthAdjust="spacingAndGlyphs" stroke="#2a2a2a" stroke-width="0.22">summary:</text>
<text x="3.4" y="923" font-size="11" font-weight="normal" fill="#2a2a2a" text-anchor="start" textLength="39.1" lengthAdjust="spacingAndGlyphs" stroke="#2a2a2a" stroke-width="0.22">Protocol</text>
<text x="3.4" y="936" font-size="11" font-weight="normal" fill="#2a2a2a" text-anchor="start" textLength="53.3" lengthAdjust="spacingAndGlyphs" stroke="#2a2a2a" stroke-width="0.22">description</text>
<text x="3.4" y="949" font-size="11" font-weight="normal" fill="#2a2a2a" text-anchor="start" textLength="68.8" lengthAdjust="spacingAndGlyphs" stroke="#2a2a2a" stroke-width="0.22">relating to the</text>
<text x="3.4" y="962" font-size="11" font-weight="normal" fill="#2a2a2a" text-anchor="start" textLength="70.3" lengthAdjust="spacingAndGlyphs" stroke="#2a2a2a" stroke-width="0.22">methods used.</text>
<text x="3.4" y="975" font-size="11" font-weight="normal" fill="#2a2a2a" text-anchor="start" textLength="76.9" lengthAdjust="spacingAndGlyphs" stroke="#2a2a2a" stroke-width="0.22">description: The</text>
<text x="3.4" y="988" font-size="11" font-weight="normal" fill="#2a2a2a" text-anchor="start" textLength="75.0" lengthAdjust="spacingAndGlyphs" stroke="#2a2a2a" stroke-width="0.22">protocol field is</text>
<text x="3.4" y="1001" font-size="11" font-weight="normal" fill="#2a2a2a" text-anchor="start" textLength="31.6" lengthAdjust="spacingAndGlyphs" stroke="#2a2a2a" stroke-width="0.22">used...</text>
<path d="M310.0,1728.5 H316.0 L322.5,1722.0 L329.0,1728.5 H707.0 A7.5,7.5 0 0 1 714.5,1736.0 V1753.0 A7.5,7.5 0 0 1 707.0,1760.5 H310.0 A7.5,7.5 0 0 1 302.5,1753.0 V1736.0 A7.5,7.5 0 0 1 310.0,1728.5 Z" fill="url(#gTip)" stroke="#111" stroke-width="1.2"/>
<text x="304.8" y="1741" font-size="11" font-weight="normal" fill="#2a2a2a" text-anchor="start" textLength="388.1" lengthAdjust="spacingAndGlyphs" stroke="#2a2a2a" stroke-width="0.22">tooltip: Resource Base summary: Generic information about any resource that is</text>
<text x="304.8" y="1754" font-size="11" font-weight="normal" fill="#2a2a2a" text-anchor="start" textLength="169.2" lengthAdjust="spacingAndGlyphs" stroke="#2a2a2a" stroke-width="0.22">being described. description: The...</text>
<rect x="302.5" y="1773.0" width="98" height="20" rx="10.0" fill="url(#gElem)" stroke="#9a9a9a" stroke-width="1" filter="url(#sh)"/>
<text x="310.2" y="1786.4" font-size="11.8" font-weight="normal" fill="#111" text-anchor="start" textLength="81.2" lengthAdjust="spacingAndGlyphs" stroke="#111" stroke-width="0.38">proceduralStep</text>
<circle cx="409.5" cy="1782.5" r="5.2" fill="#fff" stroke="#111" stroke-width="1.05"/>
<line x1="407.1" y1="1782.5" x2="411.9" y2="1782.5" stroke="#111" stroke-width="1.1"/>
<line x1="409.5" y1="1780.1" x2="409.5" y2="1784.9" stroke="#111" stroke-width="1.1"/>
<text x="296.3" y="1779" font-size="11.6" font-weight="normal" fill="#222" text-anchor="end" stroke="#222" stroke-width="0.2">0..∞</text>
<rect x="296.0" y="1855.0" width="72" height="20" rx="10.0" fill="url(#gElem)" stroke="#222" stroke-width="1.3" filter="url(#sh)"/>
<text x="303.7" y="1868.4" font-size="11.8" font-weight="normal" fill="#111" text-anchor="start" textLength="55.2" lengthAdjust="spacingAndGlyphs" stroke="#111" stroke-width="0.38">references</text>
<circle cx="377.5" cy="1864.5" r="5.2" fill="#fff" stroke="#111" stroke-width="1.05"/>
<line x1="375.1" y1="1864.5" x2="379.9" y2="1864.5" stroke="#111" stroke-width="1.1"/>
<line x1="377.5" y1="1862.1" x2="377.5" y2="1866.9" stroke="#111" stroke-width="1.1"/>
<path d="M303.5,1887.7 H309.5 L316.0,1881.2 L322.5,1887.7 H558.5 A7.5,7.5 0 0 1 566.0,1895.2 V1925.2 A7.5,7.5 0 0 1 558.5,1932.7 H303.5 A7.5,7.5 0 0 1 296.0,1925.2 V1895.2 A7.5,7.5 0 0 1 303.5,1887.7 Z" fill="url(#gTip)" stroke="#111" stroke-width="1.2"/>
<text x="298.4" y="1900.2" font-size="11" font-weight="normal" fill="#2a2a2a" text-anchor="start" textLength="228.4" lengthAdjust="spacingAndGlyphs" stroke="#2a2a2a" stroke-width="0.22">tooltip: References summary: The id of another</text>
<text x="298.4" y="1913.2" font-size="11" font-weight="normal" fill="#2a2a2a" text-anchor="start" textLength="249.9" lengthAdjust="spacingAndGlyphs" stroke="#2a2a2a" stroke-width="0.22">element in this EML document to be used to here in</text>
<text x="298.4" y="1926.2" font-size="11" font-weight="normal" fill="#2a2a2a" text-anchor="start" textLength="69.9" lengthAdjust="spacingAndGlyphs" stroke="#2a2a2a" stroke-width="0.22">this context....</text>
<path d="M218.0,1950.5 H224.0 L230.5,1944.0 L237.0,1950.5 H556.0 A7.5,7.5 0 0 1 563.5,1958.0 V1975.0 A7.5,7.5 0 0 1 556.0,1982.5 H218.0 A7.5,7.5 0 0 1 210.5,1975.0 V1958.0 A7.5,7.5 0 0 1 218.0,1950.5 Z" fill="url(#gTip)" stroke="#111" stroke-width="1.2"/>
<text x="213.6" y="1963" font-size="11" font-weight="normal" fill="#2a2a2a" text-anchor="start" textLength="330.8" lengthAdjust="spacingAndGlyphs" stroke="#2a2a2a" stroke-width="0.22">tooltip: References Group summary: A group of elements repeatedly</text>
<text x="213.6" y="1976" font-size="11" font-weight="normal" fill="#2a2a2a" text-anchor="start" textLength="264.3" lengthAdjust="spacingAndGlyphs" stroke="#2a2a2a" stroke-width="0.22">used throughout EML to reference IDs. description: A...</text>
<path d="M134.5,2000.5 H139.0 L145.5,1994.0 L152.0,2000.5 H712.5 A9,9 0 0 1 721.5,2009.5 V2009.5 A9,9 0 0 1 712.5,2018.5 H134.5 A9,9 0 0 1 125.5,2009.5 V2009.5 A9,9 0 0 1 134.5,2000.5 Z" fill="url(#gTipP)" stroke="#111" stroke-width="1.2"/>
<text x="128.3" y="2012.8" font-size="11" font-weight="normal" fill="#2a2a2a" text-anchor="start" textLength="575.5" lengthAdjust="spacingAndGlyphs" stroke="#2a2a2a" stroke-width="0.22">tooltip: A prescriptive procedure; a standardized method summary: A reusable container for information related to a...</text></svg>
</body></html>
